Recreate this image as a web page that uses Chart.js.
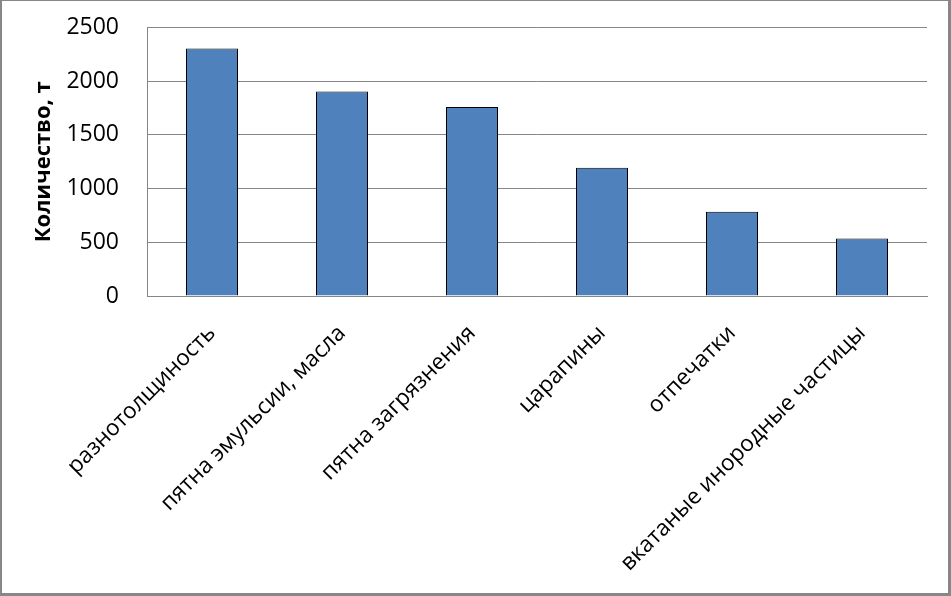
<!DOCTYPE html>
<html>
<head>
<meta charset="utf-8">
<script src="https://cdn.jsdelivr.net/npm/chart.js@4/dist/chart.umd.min.js"></script>
<style>
  html, body { margin: 0; padding: 0; background: #fff; }
  #wrap { width: 951px; height: 596px; }
</style>
</head>
<body>
<div id="wrap"><canvas id="myChart" width="951" height="596"></canvas></div>
<script>
// defect categories and amounts (t)
const categories = [
    'разнотолщиность',
    'пятна эмульсии, масла',
    'пятна загрязнения',
    'царапины',
    'отпечатки',
    'вкатаные инородные частицы'
];
const amounts = [2305, 1905, 1760, 1195, 785, 535];
const yTicks = [0, 500, 1000, 1500, 2000, 2500];
const yTitle = 'Количество, т';

// grey frame around the whole chart
const framePlugin = {
    id: 'frame',
    afterDraw(chart) {
        const c = chart.ctx;
        const w = chart.width, h = chart.height;
        c.save();
        c.fillStyle = '#878787';
        c.fillRect(0, 0, w, 1);
        c.fillRect(0, 0, 2, h);
        c.fillRect(w - 3, 0, 3, h);
        c.fillRect(0, h - 3, w, 3);
        c.restore();
    }
};

Chart.defaults.font.family = '"Open Sans", "Noto Sans", sans-serif';
Chart.defaults.color = '#000';

const ctx = document.getElementById('myChart').getContext('2d');
const chart = new Chart(ctx, {
    type: 'bar',
    data: {
        labels: categories,
        datasets: [{
            data: amounts,
            backgroundColor: '#4F81BD',
            borderColor: '#000',
            borderWidth: 1,
            categoryPercentage: 1,
            barPercentage: 0.4
        }]
    },
    options: {
        responsive: false,
        animation: false,
        layout: { padding: { top: 27.5, right: 24, left: 0, bottom: 0 } },
        plugins: {
            legend: { display: false },
            tooltip: { enabled: false }
        },
        scales: {
            x: {
                grid: { display: false, drawTicks: false },
                border: { color: '#868686', width: 1 },
                ticks: {
                    minRotation: 45,
                    maxRotation: 45,
                    autoSkip: false,
                    padding: 24,
                    font: { size: 22.5 }
                },
                afterFit(scale) { scale.height = 300; }
            },
            y: {
                min: 0,
                max: 2500,
                afterBuildTicks(scale) {
                    scale.ticks = yTicks.map(v => ({ value: v }));
                },
                grid: { color: '#868686', lineWidth: 1, drawTicks: false },
                border: { color: '#868686', width: 1 },
                ticks: {
                    padding: 28,
                    font: { size: 23 },
                    callback: v => String(v)
                },
                title: {
                    display: true,
                    text: yTitle,
                    font: { size: 22, weight: 'bold' },
                    padding: { top: 31, bottom: 0 }
                },
                afterFit(scale) {
                    scale.width = 147;
                    scale.paddingTop = 0;
                    scale.paddingBottom = 0;
                }
            }
        }
    },
    plugins: [framePlugin]
});
</script>
</body>
</html>
